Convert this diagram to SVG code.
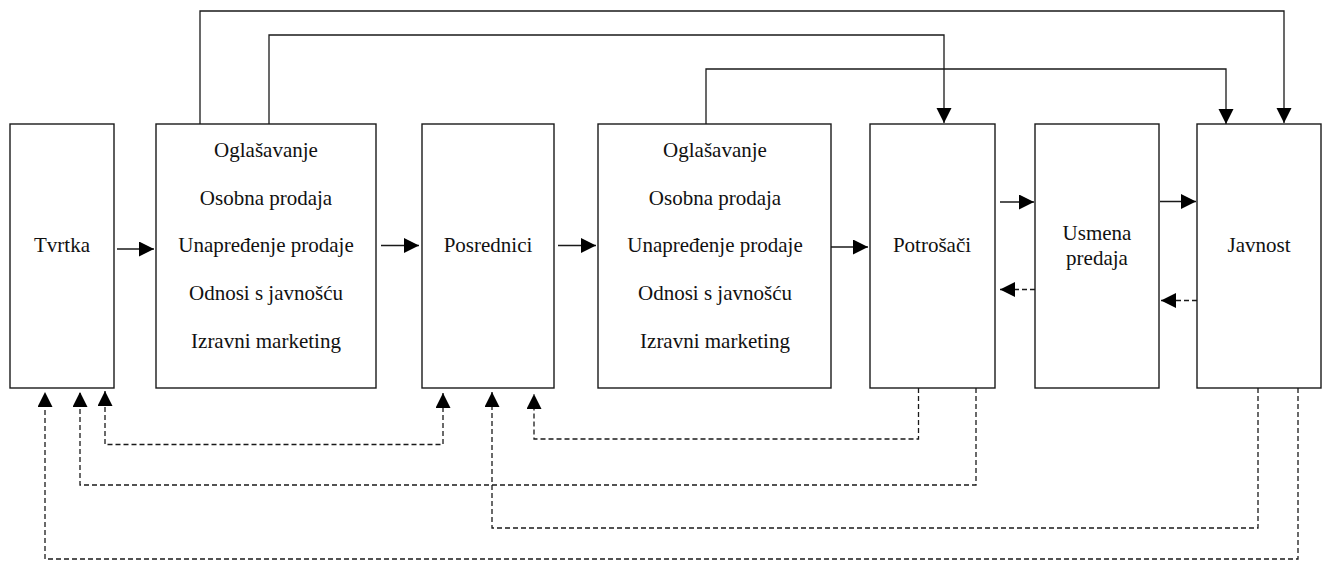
<svg xmlns="http://www.w3.org/2000/svg" width="1327" height="562" viewBox="0 0 1327 562">
<style>
.box{fill:#fff;stroke:#1a1a1a;stroke-width:1.4}
.t{font-family:"Liberation Serif","Times New Roman",serif;font-size:21px;fill:#111;text-anchor:middle}
.c{fill:none;stroke:#1a1a1a;stroke-width:1.3}
.d{fill:none;stroke:#1a1a1a;stroke-width:1.3;stroke-dasharray:5 3}
</style>
<defs>
<marker id="ah" markerUnits="userSpaceOnUse" markerWidth="16" markerHeight="16" refX="15" refY="7.5" orient="auto-start-reverse" viewBox="0 0 16 16">
<path d="M0,0 L15,7.5 L0,15 z" fill="#000"/>
</marker>
</defs>
<rect width="1327" height="562" fill="#fff"/>
<g id="tvrtka"><rect class="box" x="10" y="124" width="104" height="264"/><text class="t" x="62" y="252">Tvrtka</text></g>
<g id="promocija1"><rect class="box" x="156" y="124" width="220" height="264"/>
<text class="t" x="266" y="157">Oglašavanje</text>
<text class="t" x="266" y="205">Osobna prodaja</text>
<text class="t" x="266" y="252">Unapređenje prodaje</text>
<text class="t" x="266" y="300">Odnosi s javnošću</text>
<text class="t" x="266" y="348">Izravni marketing</text></g>
<g id="posrednici"><rect class="box" x="422" y="124" width="132" height="264"/><text class="t" x="488" y="252">Posrednici</text></g>
<g id="promocija2"><rect class="box" x="598" y="124" width="233" height="264"/>
<text class="t" x="715" y="157">Oglašavanje</text>
<text class="t" x="715" y="205">Osobna prodaja</text>
<text class="t" x="715" y="252">Unapređenje prodaje</text>
<text class="t" x="715" y="300">Odnosi s javnošću</text>
<text class="t" x="715" y="348">Izravni marketing</text></g>
<g id="potrosaci"><rect class="box" x="870" y="124" width="125" height="264"/><text class="t" x="932" y="252">Potrošači</text></g>
<g id="usmena"><rect class="box" x="1035" y="124" width="124" height="264"/><text class="t" x="1097" y="240">Usmena</text><text class="t" x="1097" y="265">predaja</text></g>
<g id="javnost"><rect class="box" x="1197" y="124" width="124" height="264"/><text class="t" x="1259" y="252">Javnost</text></g>
<g id="connectors">
<path class="c" d="M117,249 H154" marker-end="url(#ah)"/>
<path class="c" d="M381,245.5 H419" marker-end="url(#ah)"/>
<path class="c" d="M558,245.5 H596" marker-end="url(#ah)"/>
<path class="c" d="M831,247 H868" marker-end="url(#ah)"/>
<path class="c" d="M1000,202 H1034" marker-end="url(#ah)"/>
<path class="c" d="M1160,201.5 H1196" marker-end="url(#ah)"/>
<path class="d" d="M1035,289.5 H1000" marker-end="url(#ah)"/>
<path class="d" d="M1197,300.5 H1161" marker-end="url(#ah)"/>
<path class="c" d="M200,124 V11 H1284 V123" marker-end="url(#ah)"/>
<path class="c" d="M269,124 V35 H944 V123" marker-end="url(#ah)"/>
<path class="c" d="M706,124 V69 H1226 V124" marker-end="url(#ah)"/>
<path class="d" d="M105,391 V444.5 H443 V393" marker-start="url(#ah)" marker-end="url(#ah)"/>
<path class="d" d="M918.5,388 V439 H534 V394" marker-end="url(#ah)"/>
<path class="d" d="M976,388 V485 H80 V392" marker-end="url(#ah)"/>
<path class="d" d="M1258,388 V528 H492 V392" marker-end="url(#ah)"/>
<path class="d" d="M1298,388 V559 H45 V392" marker-end="url(#ah)"/>
</g>
</svg>
